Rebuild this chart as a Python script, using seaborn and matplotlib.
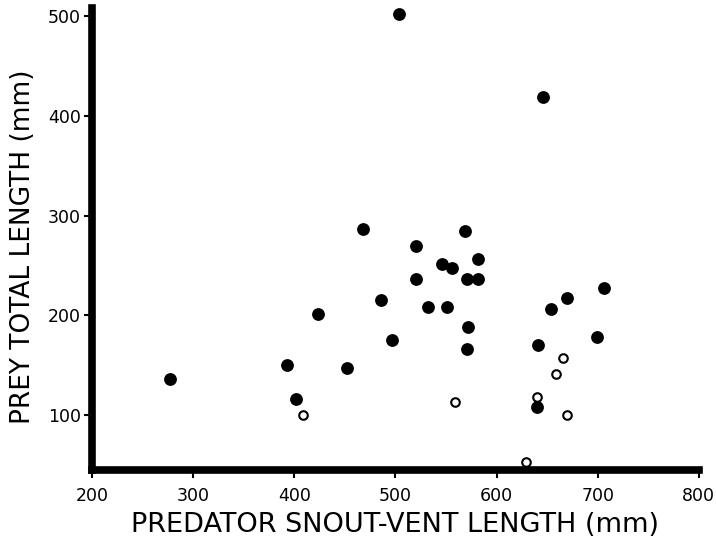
import pandas as pd
import matplotlib
matplotlib.use("Agg")
import matplotlib.pyplot as plt
import seaborn as sns

# filled circles
filled_svl = [277, 393, 402, 423, 452, 468, 486, 497, 504, 520, 520, 532, 546, 551,
              556, 569, 571, 572, 571, 582, 582, 641, 640, 646, 654, 670, 699, 706]
filled_prey = [136, 150, 116, 201, 147, 287, 215, 175, 502, 270, 237, 208, 252, 208,
               248, 285, 237, 188, 166, 257, 237, 170, 108, 419, 206, 217, 178, 228]

# open circles
open_svl = [409, 559, 629, 640, 659, 666, 670]
open_prey = [100, 113, 53, 118, 141, 157, 100]

x_ticks = [200, 300, 400, 500, 600, 700, 800]
y_ticks = [100, 200, 300, 400, 500]

filled = pd.DataFrame({'svl': filled_svl, 'prey': filled_prey})
opened = pd.DataFrame({'svl': open_svl, 'prey': open_prey})

sns.set_style('white')
plt.rcParams['font.family'] = ['DejaVu Sans']

fig = plt.figure(figsize=(7.16, 5.4), dpi=100)
ax = fig.add_axes([0.1285, 0.1296, 0.8475, 0.855])

sns.scatterplot(data=filled, x='svl', y='prey', ax=ax, s=85, color='black',
                edgecolor='black', linewidth=0, zorder=3)
sns.scatterplot(data=opened, x='svl', y='prey', ax=ax, s=38, facecolor='white',
                edgecolor='black', linewidth=1.5, zorder=4)

ax.set_xlim(200, 800)
ax.set_ylim(45, 508)
ax.set_xticks(x_ticks)
ax.set_yticks(y_ticks)

for side in ['top', 'right']:
    ax.spines[side].set_visible(False)
for side in ['left', 'bottom']:
    ax.spines[side].set_linewidth(5.5)
    ax.spines[side].set_color('black')
    ax.spines[side].set_capstyle('projecting')

ax.tick_params(axis='both', direction='out', length=6, width=1.5, color='black',
               labelsize=12.5, labelcolor='black')
ax.tick_params(axis='x', pad=6)
ax.tick_params(axis='y', pad=2)
ax.tick_params(left=True, bottom=True)

ax.set_xlabel('PREDATOR SNOUT-VENT LENGTH (mm)', fontsize=19.5, labelpad=5,
              color='black')
ax.set_ylabel('PREY TOTAL LENGTH (mm)', fontsize=19, color='black')
ax.yaxis.set_label_coords(-0.093, 0.483)

fig.savefig('out.png', dpi=100)
